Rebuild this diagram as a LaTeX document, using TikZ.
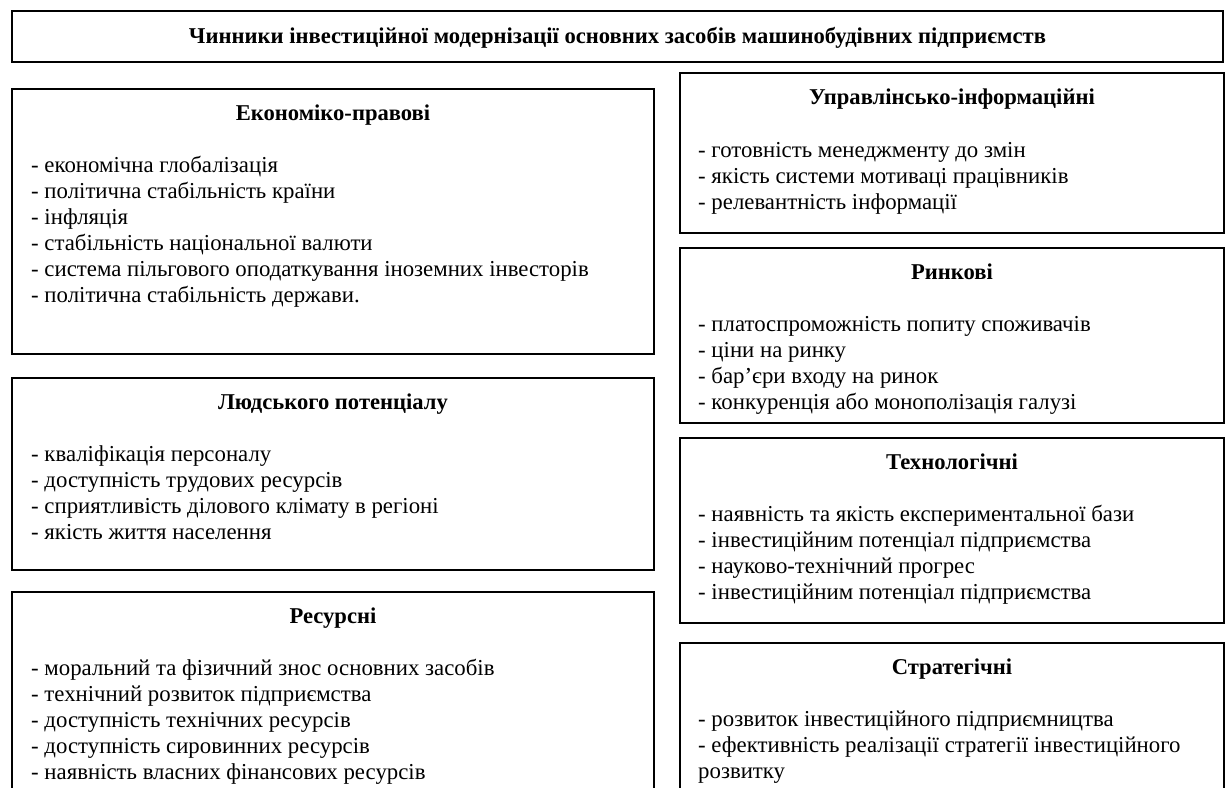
\documentclass[tikz,border=0pt]{standalone}
\usepackage{fontspec}
\setmainfont{Liberation Serif}
\usetikzlibrary{calc}
\tikzset{
  frame/.style={draw=black, line width=2pt, fill=white, inner sep=0pt, anchor=north west},
  head/.style={font=\fontsize{22.6}{26}\selectfont\bfseries, inner sep=0pt, anchor=base},
  itm/.style={font=\fontsize{22.8}{26}\selectfont, inner sep=0pt, anchor=base west},
}
\newcommand{\itemlist}[4]{%
  \foreach \t [count=\i] in {#4} {
    \node[itm] (#1-\i) at (#2, {#3+26*(\i-1)}) {\t};
  }%
}
\begin{document}
\begin{tikzpicture}[x=1pt, y=-1pt]
\clip (0,0) rectangle (1226,787);
\fill[white] (0,0) rectangle (1226,787);

% title
\node[frame, minimum width=1211pt, minimum height=51pt] (title) at (11,10) {};
\node[head] (titletext) at ($(title.center)+(0,7)$) {Чинники інвестиційної модернізації основних засобів машинобудівних підприємств};

% left column
\node[frame, minimum width=642pt, minimum height=265pt] (l1) at (11,88) {};
\node[head] (l1h) at ($(l1.north)+(0,32)$) {Економіко-правові};
\itemlist{l1i}{31}{172}{- економічна глобалізація, - політична стабільність країни, - інфляція, - стабільність національної валюти, - система пільгового оподаткування іноземних інвесторів, - політична стабільність держави.}

\node[frame, minimum width=642pt, minimum height=192pt] (l2) at (11,377) {};
\node[head] (l2h) at ($(l2.north)+(0,32)$) {Людського потенціалу};
\itemlist{l2i}{31}{461}{- кваліфікація персоналу, - доступність трудових ресурсів, - сприятливість ділового клімату в регіоні, - якість життя населення}

\node[frame, minimum width=642pt, minimum height=220pt] (l3) at (11,591) {};
\node[head] (l3h) at ($(l3.north)+(0,32)$) {Ресурсні};
\itemlist{l3i}{31}{675}{- моральний та фізичний знос основних засобів, - технічний розвиток підприємства, - доступність технічних ресурсів, - доступність сировинних ресурсів, - наявність власних фінансових ресурсів}

% right column
\node[frame, minimum width=544pt, minimum height=160pt] (r1) at (679,72) {};
\node[head] (r1h) at ($(r1.north)+(0,32)$) {Управлінсько-інформаційні};
\itemlist{r1i}{698}{157}{- готовність менеджменту до змін, - якість системи мотиваці працівників, - релевантність інформації}

\node[frame, minimum width=544pt, minimum height=175pt] (r2) at (679,247) {};
\node[head] (r2h) at ($(r2.north)+(0,32)$) {Ринкові};
\itemlist{r2i}{698}{331}{- платоспроможність попиту споживачів, - ціни на ринку, - бар’єри входу на ринок, - конкуренція або монополізація галузі}

\node[frame, minimum width=544pt, minimum height=185pt] (r3) at (679,437) {};
\node[head] (r3h) at ($(r3.north)+(0,32)$) {Технологічні};
\itemlist{r3i}{698}{521}{- наявність та якість експериментальної бази, - інвестиційним потенціал підприємства, - науково-технічний прогрес, - інвестиційним потенціал підприємства}

\node[frame, minimum width=544pt, minimum height=170pt] (r4) at (679,642) {};
\node[head] (r4h) at ($(r4.north)+(0,32)$) {Стратегічні};
\itemlist{r4i}{698}{726}{- розвиток інвестиційного підприємництва, - ефективність реалізації стратегії інвестиційного, розвитку}
\end{tikzpicture}
\end{document}
